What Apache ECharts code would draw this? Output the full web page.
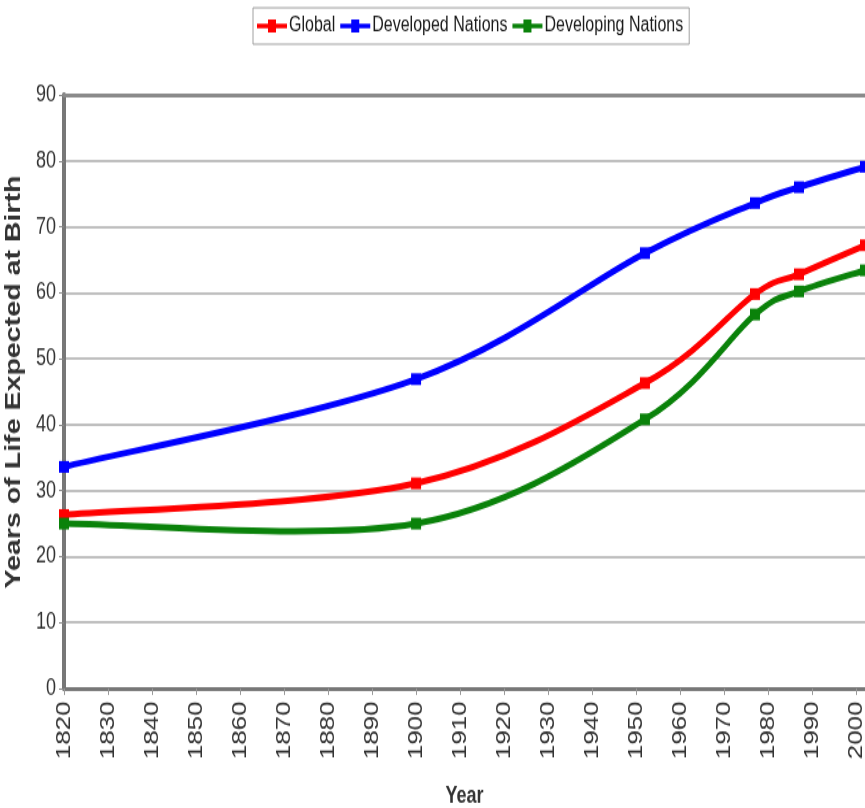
<!DOCTYPE html>
<html>
<head>
<meta charset="utf-8">
<script src="https://cdn.jsdelivr.net/npm/echarts@6/dist/echarts.min.js"></script>
<style>
  html, body { margin: 0; padding: 0; background: #fff; }
  #frame { width: 865px; height: 808px; position: relative; }
  /* the chart is laid out on a shorter canvas and stretched vertically */
  #chart { position: absolute; left: 0; top: 0; width: 865px; height: 622px;
           transform: scaleY(1.2990); transform-origin: 0 0; }
</style>
</head>
<body>
<div id="frame"><div id="chart"></div></div>
<script>
// Life expectancy at birth, by region
const years = [1820, 1900, 1952, 1977, 1987, 2002];
const globalLife = [26.3, 31.1, 46.3, 59.8, 62.8, 67.2];
const developedLife = [33.6, 46.9, 66.0, 73.6, 76.0, 79.1];
const developingLife = [25.0, 25.0, 40.8, 56.7, 60.2, 63.4];

const seriesNames = ['Global', 'Developed Nations', 'Developing Nations'];
const seriesColors = ['#ff0000', '#0000ff', '#0a820a'];
const seriesValues = [globalLife, developedLife, developingLife];

const xTickStep = 10;
const yTickStep = 10;

const pairs = vals => years.map((y, i) => [y, vals[i]]);

// Smoothed curve through the points (Catmull-Rom style Bezier segments)
function curveSeries(name, vals, color) {
  const n = years.length;
  return {
    name,
    type: 'custom',
    data: pairs(vals),
    z: 2,
    silent: true,
    renderItem: (params, api) => {
      const i = params.dataIndex;
      if (i >= n - 1) return null;
      const pt = k => {
        const kk = Math.max(0, Math.min(n - 1, k));
        return api.coord([years[kk], vals[kk]]);
      };
      const p0 = pt(i - 1), p1 = pt(i), p2 = pt(i + 1), p3 = pt(i + 2);
      return {
        type: 'bezierCurve',
        shape: {
          x1: p1[0], y1: p1[1],
          x2: p2[0], y2: p2[1],
          cpx1: p1[0] + (p2[0] - p0[0]) / 6,
          cpy1: p1[1] + (p2[1] - p0[1]) / 6,
          cpx2: p2[0] - (p3[0] - p1[0]) / 6,
          cpy2: p2[1] - (p3[1] - p1[1]) / 6
        },
        style: { stroke: color, lineWidth: 5, fill: null, lineCap: 'round' }
      };
    }
  };
}

// Square markers at the data points
function markerSeries(name, vals, color) {
  return {
    name,
    type: 'line',
    data: pairs(vals),
    z: 4,
    symbol: 'rect',
    symbolSize: [10, 9],
    showSymbol: true,
    clip: false,
    color,
    itemStyle: { color },
    lineStyle: { opacity: 0, width: 5, color }
  };
}

const chart = echarts.init(document.getElementById('chart'), null, { renderer: 'canvas' });

const textFont = '"Liberation Sans", Arial, sans-serif';

chart.setOption({
  backgroundColor: '#ffffff',
  animation: false,
  legend: {
    top: 6,
    left: 253,
    data: seriesNames.map((name, i) => ({
      name,
      icon: 'path://M0,3.2 L11,3.2 L11,0 L19,0 L19,3.2 L30,3.2 L30,6.8 L19,6.8 L19,10 L11,10 L11,6.8 L0,6.8 Z',
      itemStyle: { color: seriesColors[i] }
    })),
    borderColor: '#a0a0a0',
    borderWidth: 1,
    padding: [6, 6, 6, 4],
    itemGap: 5,
    itemWidth: 32,
    itemHeight: 10,
    textStyle: { fontFamily: textFont, fontSize: 16, color: '#1a1a1a', padding: [0, 0, 0, -4] }
  },
  grid: { left: 64, right: 0, top: 73, bottom: 92, containLabel: false, outerBoundsMode: 'none' },
  xAxis: [{
    type: 'value',
    min: 1820,
    max: 2002,
    interval: xTickStep,
    name: 'Year',
    nameLocation: 'middle',
    nameGap: 74,
    nameTextStyle: { fontFamily: textFont, fontSize: 18, fontWeight: 'bold', color: '#333' },
    axisLine: { show: true, lineStyle: { color: '#777', width: 3 } },
    axisTick: { show: true, length: 5, lineStyle: { color: '#999', width: 1 } },
    axisLabel: {
      rotate: 90,
      margin: 10,
      showMaxLabel: false,
      fontFamily: textFont,
      fontSize: 20,
      color: '#333',
      formatter: v => (v % xTickStep === 0 ? String(v) : '')
    },
    splitLine: { show: false }
  }, {
    type: 'value',
    position: 'top',
    min: 1820,
    max: 2002,
    axisLine: { show: true, onZero: false, lineStyle: { color: '#8a8a8a', width: 3 } },
    axisTick: { show: false },
    axisLabel: { show: false },
    splitLine: { show: false }
  }],
  yAxis: {
    type: 'value',
    min: 0,
    max: 90,
    interval: yTickStep,
    name: 'Years of Life Expected at Birth',
    nameLocation: 'middle',
    nameGap: 34,
    nameRotate: 90,
    nameTextStyle: {
      fontFamily: textFont, fontSize: 22, fontWeight: 'bold', color: '#333',
      padding: [0, 0, 0, 15]
    },
    axisLine: { show: true, lineStyle: { color: '#777', width: 4 } },
    axisTick: { show: true, length: 5, lineStyle: { color: '#888', width: 1 } },
    axisLabel: { margin: 8, fontFamily: textFont, fontSize: 18, color: '#333' },
    splitLine: { show: true, lineStyle: { color: '#aaaaaa', width: 1.6 } }
  },
  series: [
    ...seriesNames.map((name, i) => markerSeries(name, seriesValues[i], seriesColors[i])),
    ...seriesNames.map((name, i) => curveSeries(name, seriesValues[i], seriesColors[i]))
  ]
});
</script>
</body>
</html>
